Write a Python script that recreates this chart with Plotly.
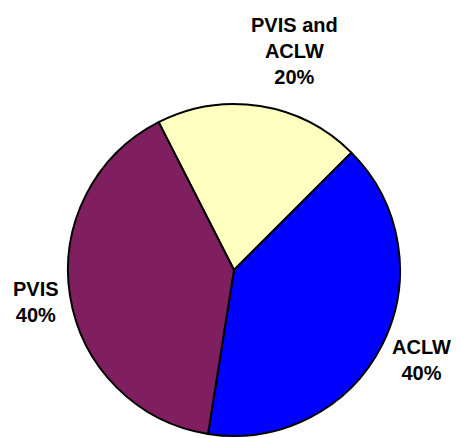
import math
import plotly.graph_objects as go

labels = ["PVIS and<br>ACLW", "ACLW", "PVIS"]
values = [20, 40, 40]
colors = ["#FFFFC0", "#0000FF", "#801F5F"]

# figure sized to fit inside the page's default 8px body margin
W, H = 453, 430
cx, cy, r = 226, 262, 166
start_angle = -27  # degrees, clockwise from 12 o'clock
# fine nudges (px, screen: +x right, +y down) for the label boxes
label_nudge = [(-13, -4), (-3, 9), (3, 4)]

fig = go.Figure(go.Pie(
    labels=labels,
    values=values,
    sort=False,
    direction="clockwise",
    rotation=start_angle,
    marker=dict(colors=colors, line=dict(color="black", width=2)),
    textinfo="none",
    hoverinfo="label+percent",
    showlegend=False,
    domain=dict(x=[(cx - r) / W, (cx + r) / W], y=[(H - cy - r) / H, (H - cy + r) / H]),
))

# outside labels placed along each slice's mid-angle
total = sum(values)
cum = 0
gap = 12
annotations = []
for lab, v, (nx, ny) in zip(labels, values, label_nudge):
    mid = math.radians(start_angle + 360 * (cum + v / 2) / total)
    cum += v
    sx, sy = math.sin(mid), -math.cos(mid)
    R = r + gap
    px, py = cx + R * sx, cy + R * sy
    xa = "left" if sx > 0.1 else ("right" if sx < -0.1 else "center")
    ya = "bottom" if sy < -0.6 else ("top" if sy > 0.6 else "middle")
    pct = round(100 * v / total)
    annotations.append(dict(
        x=px / W, y=1 - py / H, xref="paper", yref="paper",
        xshift=nx, yshift=-ny,
        text=f"<b>{lab}<br>{pct}%</b>", showarrow=False,
        xanchor=xa, yanchor=ya, align="center",
        font=dict(family="Arial, Liberation Sans, sans-serif", size=20, color="black"),
    ))

fig.update_layout(
    width=W, height=H,
    margin=dict(l=0, r=0, t=0, b=0),
    paper_bgcolor="white", plot_bgcolor="white",
    annotations=annotations,
)
fig.write_html("out.html")
